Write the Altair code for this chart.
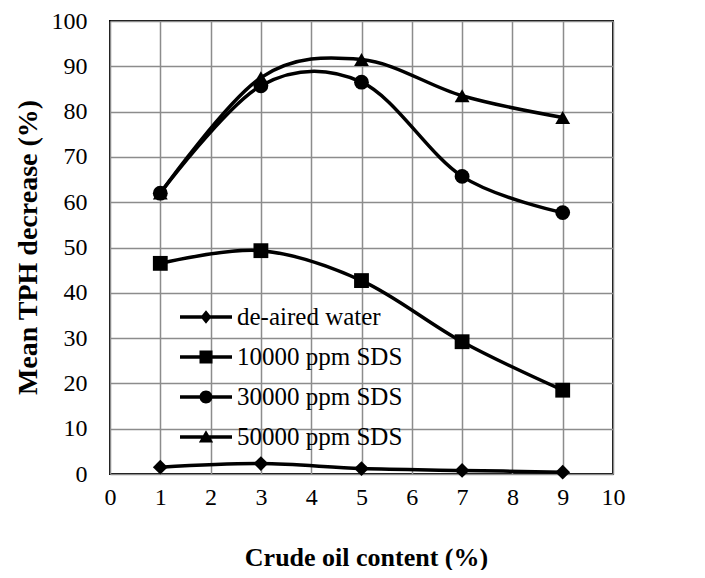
import altair as alt
import pandas as pd

# ---- data ----
x_vals = [1, 3, 5, 7, 9]
series_names = ["de-aired water", "10000 ppm SDS", "30000 ppm SDS", "50000 ppm SDS"]
deaired = [1.5, 2.3, 1.2, 0.8, 0.4]
sds10000 = [46.5, 49.3, 42.7, 29.2, 18.5]
sds30000 = [62.0, 85.7, 86.5, 65.7, 57.7]
sds50000 = [62.0, 87.5, 91.5, 83.5, 78.7]
x_ticks = list(range(0, 11))
y_ticks = list(range(0, 101, 10))

rows = []
for name, vals in zip(series_names, [deaired, sds10000, sds30000, sds50000]):
    for xv, yv in zip(x_vals, vals):
        rows.append({"x": xv, "y": yv, "series": name})
df = pd.DataFrame(rows)

FONT = "Liberation Serif, Times New Roman, serif"
marker_shapes = ["diamond", "square", "circle", "triangle-up"]

# legend symbols: line segment + marker (unit = sqrt(size)/2 px)
line_seg = "M-2,-0.14L2,-0.14L2,0.14L-2,0.14Z"
legend_paths = [
    line_seg + "M-0.42,0L0,-0.52L0.42,0L0,0.52Z",
    line_seg + "M-0.5,-0.5L0.5,-0.5L0.5,0.5L-0.5,0.5Z",
    line_seg + "M0.5,0A0.5,0.5,0,1,1,-0.5,0A0.5,0.5,0,1,1,0.5,0Z",
    line_seg + "M0,-0.52L0.55,0.42L-0.55,0.42Z",
]

PLOT_H = 453

x_enc = alt.X(
    "x:Q",
    scale=alt.Scale(domain=[0, 10], nice=False, zero=False),
    axis=alt.Axis(
        values=x_ticks,
        title="Crude oil content (%)",
        labelPadding=11,
        labelFlush=False,
        labelFont=FONT,
        labelFontSize=24,
        labelColor="black",
        titleFont=FONT,
        titleFontSize=26,
        titleX=256,
        titleY=83,
        titleBaseline="middle",
        titleAlign="center",
    ),
)
y_enc = alt.Y(
    "y:Q",
    scale=alt.Scale(domain=[0, 100], nice=False),
    axis=alt.Axis(
        values=y_ticks,
        title="Mean TPH decrease (%)",
        labelPadding=23,
        labelFlush=False,
        labelFont=FONT,
        labelFontSize=24,
        labelColor="black",
        titleFont=FONT,
        titleFontSize=28,
        titleX=-82,
        titleY=226,
        titleAngle=-90,
        titleBaseline="middle",
        titleAlign="center",
    ),
)

base = alt.Chart(df).encode(x=x_enc, y=y_enc)

lines = base.mark_line(
    color="black", strokeWidth=3.5, interpolate="cardinal", tension=0
).encode(detail="series:N")

points = base.mark_point(
    filled=True, color="black", opacity=1, size=220
).encode(
    shape=alt.Shape(
        "series:N",
        sort=series_names,
        scale=alt.Scale(domain=series_names, range=marker_shapes),
        legend=None,
    )
)

legend_layer = (
    base.transform_filter("false")
    .mark_point(filled=True, color="black", opacity=1)
    .encode(
        shape=alt.Shape(
            "series:N",
            sort=series_names,
            scale=alt.Scale(domain=series_names, range=legend_paths),
            legend=alt.Legend(
                title=None,
                orient="none",
                legendX=83,
                legendY=283,
                padding=0,
                rowPadding=14,
                labelOffset=18,
                labelFont=FONT,
                labelFontSize=25,
                labelColor="black",
                labelLimit=0,
                symbolSize=676,
                symbolFillColor="black",
                symbolStrokeWidth=0,
                symbolOpacity=1,
            ),
        )
    )
)

chart = (
    alt.layer(lines, points, legend_layer)
    .resolve_scale(shape="independent")
    .properties(
        width=503,
        height=PLOT_H,
        autosize=alt.AutoSizeParams(type="none"),
        padding={"left": 102, "top": 13, "right": 84, "bottom": 96},
        background="white",
    )
    .configure(font=FONT)
    .configure_view(stroke="black", strokeWidth=2)
    .configure_axis(
        grid=True,
        gridColor="#8c8c8c",
        gridWidth=1.5,
        domain=False,
        ticks=False,
        titleFontWeight="bold",
        titleColor="black",
    )
)

chart.save("out.html", embed_options={"renderer": "svg", "actions": False})
